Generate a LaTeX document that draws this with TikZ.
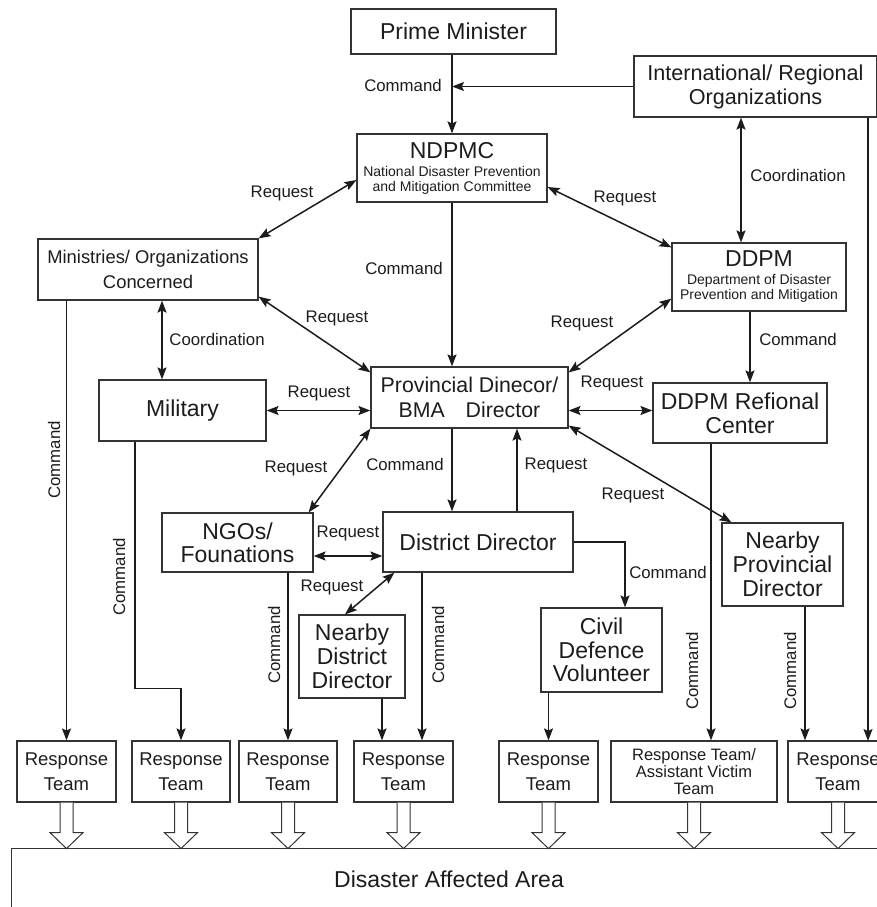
\documentclass[tikz,border=0pt]{standalone}
\usepackage{fontspec}
\setmainfont{Liberation Sans}
\usetikzlibrary{arrows.meta,calc}
\definecolor{ink}{HTML}{1E1B1C}
\definecolor{edgec}{HTML}{333333}
\begin{document}
\begin{tikzpicture}[x=1pt,y=-1pt,
  box/.style={draw=edgec, line width=1.2pt, inner sep=0pt, align=center, text=ink},
  big/.style={font=\fontsize{23}{24}\selectfont},
  lbl/.style={font=\fontsize{16.8}{18}\selectfont, text=ink, inner sep=0pt},
  rlbl/.style={lbl, rotate=90},
  conn/.style={draw=ink, line width=1.5pt},
  arr/.style={conn, -{Stealth[length=12pt,width=9pt,inset=2.2pt]}},
  dbl/.style={conn, {Stealth[length=12pt,width=9pt,inset=2.2pt]}-{Stealth[length=12pt,width=9pt,inset=2.2pt]}},
  rtbox/.style={box, minimum height=61pt, font=\fontsize{18.5}{25}\selectfont},
]
\useasboundingbox (0,0) rectangle (877,907);
\clip (0,0) rectangle (877,907);

% ---------- boxes ----------
\node[box, big, minimum width=205pt, minimum height=45pt] (pm) at (453.5,31.5) {Prime Minister};
\node[box, font=\fontsize{21.6}{24}\selectfont, minimum width=243pt, minimum height=61pt] (intl) at (755.5,86.5) {International/ Regional\\Organizations};
\node[box, font=\fontsize{14}{15}\selectfont, minimum width=190pt, minimum height=68pt] (ndpmc) at (452,168) {{\fontsize{23}{24}\selectfont NDPMC}\\[3pt]National Disaster Prevention\\and Mitigation Committee};
\node[box, font=\fontsize{18.4}{25}\selectfont, minimum width=220pt, minimum height=61pt] (min) at (148,269.5) {Ministries/ Organizations\\Concerned};
\node[box, font=\fontsize{14}{15}\selectfont, minimum width=174pt, minimum height=68pt] (ddpm) at (759,277) {{\fontsize{23}{24}\selectfont DDPM}\\[3pt]Department of Disaster\\Prevention and Mitigation};
\node[box, big, minimum width=167pt, minimum height=61pt] (mil) at (182.5,410.5) {Military};
\node[box, font=\fontsize{21.3}{25}\selectfont, minimum width=197pt, minimum height=61pt] (prov) at (469.5,397.5) {Provincial Dinecor/\\BMA\hspace*{0.7em} Director};
\node[box, big, minimum width=174pt, minimum height=60pt] (reg) at (740,413) {DDPM Refional\\Center};
\node[box, font=\fontsize{23}{23}\selectfont, minimum width=151pt, minimum height=59pt] (ngo) at (237.5,542.5) {NGOs/\\Founations};
\node[box, big, minimum width=190pt, minimum height=60pt] (dist) at (478,542) {District Director};
\node[box, big, minimum width=106pt, minimum height=83pt] (ndist) at (352,656.5) {Nearby\\District\\Director};
\node[box, font=\fontsize{23}{23.5}\selectfont, minimum width=121pt, minimum height=84pt] (civ) at (601.5,650) {Civil\\Defence\\Volunteer};
\node[box, big, minimum width=121pt, minimum height=83pt] (nprov) at (782.5,564.5) {Nearby\\Provincial\\Director};

\node[rtbox, minimum width=99pt] (rt1) at (66.5,771.5) {Response\\Team};
\node[rtbox, minimum width=98pt] (rt2) at (181,771.5) {Response\\Team};
\node[rtbox, minimum width=98pt] (rt3) at (288,771.5) {Response\\Team};
\node[rtbox, minimum width=99pt] (rt4) at (403.5,771.5) {Response\\Team};
\node[rtbox, minimum width=99pt] (rt5) at (548.5,771.5) {Response\\Team};
\node[rtbox, minimum width=166pt, font=\fontsize{16.5}{16.7}\selectfont] (rt6) at (694,771.5) {Response Team/\\Assistant Victim\\Team};
\node[rtbox, minimum width=100pt] (rt7) at (838,771.5) {Response\\Team};

\node[draw=edgec, line width=1.2pt, inner sep=0pt, minimum width=949pt, minimum height=122pt, anchor=north west] (area) at (11,848) {};
\node[big, text=ink, inner sep=0pt] (areatxt) at (449,879) {Disaster Affected Area};

% ---------- hollow arrows ----------
\foreach \n in {rt1,rt2,rt3,rt4,rt5,rt6,rt7}{
  \draw[draw=edgec, line width=1pt, fill=white, line join=miter]
    ([xshift=-6.5pt]\n.south) -- ++(0,30) -- ++(-10,0) -- ($(\n.south)+(0,46)$)
    -- ($(\n.south)+(16.5,30)$) -- ++(-10,0) -- ([xshift=6.5pt]\n.south);
}

% ---------- connectors ----------
\coordinate (rx) at (868,741);
\draw[arr] (pm.south -| ndpmc.north) -- (ndpmc.north);
\draw[arr] (intl.west) -- (intl.west -| ndpmc.north);
\draw[dbl] ([xshift=-14.5pt]intl.south) -- ([xshift=-14.5pt]intl.south |- ddpm.north);
\draw[arr] (intl.south -| rx) -- (rx);
\draw[dbl] ([yshift=-12pt]ndpmc.west) -- (min.north east);
\draw[dbl] ([yshift=-19pt]ndpmc.east) -- ([yshift=-5pt]ddpm.north west);
\draw[arr] (ndpmc.south) -- (prov.north -| ndpmc.south);
\draw[dbl] ([xshift=14pt]min.south) -- ([xshift=14pt]min.south |- mil.north);
\draw[dbl] ([yshift=4pt]min.south east) -- ([yshift=-6pt]prov.north west);
\draw[arr] (min.south -| rt1.north) -- (rt1.north);
\draw[dbl] (mil.east) -- (mil.east -| prov.west);
\draw[arr] ([xshift=-47.5pt]mil.south) -- ++(0,247) -| (rt2.north);
\draw[dbl] ([yshift=13pt]ddpm.south west) -- ([yshift=-6pt]prov.north east);
\draw[arr] ([xshift=-9pt]ddpm.south) -- ([xshift=-9pt]ddpm.south |- reg.north);
\draw[dbl] (prov.east |- mil.east) -- (reg.west |- mil.east);
\draw[dbl] ([yshift=3pt]prov.south east) -- ([xshift=10pt]nprov.north west);
\draw[arr] (prov.south -| ndpmc.south) -- (dist.north -| ndpmc.south);
\draw[arr] ([xshift=39pt]dist.north) -- ([xshift=39pt]dist.north |- prov.south);
\draw[dbl] (prov.south west) -- ([xshift=-5pt]ngo.north east);
\draw[dbl] ([yshift=-13.5pt]ngo.east) -- ([yshift=-13.5pt]ngo.east -| dist.west);
\draw[dbl] ([xshift=12pt]dist.south west) -- ([xshift=-7pt]ndist.north);
\draw[arr] (dist.east) -| ([xshift=23.5pt]civ.north);
\draw[arr] ([xshift=-29pt]reg.south) -- ([xshift=-29pt]reg.south |- rt6.north);
\draw[arr] ([xshift=22.5pt]nprov.south) -- ([xshift=22.5pt]nprov.south |- rt7.north);
\draw[arr] (ngo.south -| rt3.north) -- (rt3.north);
\draw[arr] ([xshift=30pt]ndist.south) -- ([xshift=30pt]ndist.south |- rt4.north);
\draw[arr] ([xshift=-56pt]dist.south) -- ([xshift=-56pt]dist.south |- rt4.north);
\draw[arr] (civ.south -| rt5.north) -- (rt5.north);

% ---------- labels ----------
\node[lbl] (l1) at (403,85) {Command};
\node[lbl] (l2) at (798,175) {Coordination};
\node[lbl] (l3) at (282,193) {Request};
\node[lbl] (l4) at (625,198) {Request};
\node[lbl] (l5) at (404,268) {Command};
\node[lbl] (l6) at (217,339) {Coordination};
\node[lbl] (l7) at (337,318) {Request};
\node[lbl] (l8) at (319,393) {Request};
\node[lbl] (l9) at (582,323) {Request};
\node[lbl] (l10) at (798,339) {Command};
\node[lbl] (l11) at (612,383) {Request};
\node[lbl] (l12) at (633,495) {Request};
\node[lbl] (l13) at (405,464) {Command};
\node[lbl] (l14) at (556,465) {Request};
\node[lbl] (l15) at (296,468) {Request};
\node[lbl] (l16) at (348,533) {Request};
\node[lbl] (l17) at (332,587) {Request};
\node[lbl] (l18) at (668,572) {Command};
\node[rlbl] (r1) at (54,460) {Command};
\node[rlbl] (r2) at (119,577) {Command};
\node[rlbl] (r3) at (274,645) {Command};
\node[rlbl] (r4) at (438,645) {Command};
\node[rlbl] (r5) at (692,671) {Command};
\node[rlbl] (r6) at (790,671) {Command};
\end{tikzpicture}
\end{document}
